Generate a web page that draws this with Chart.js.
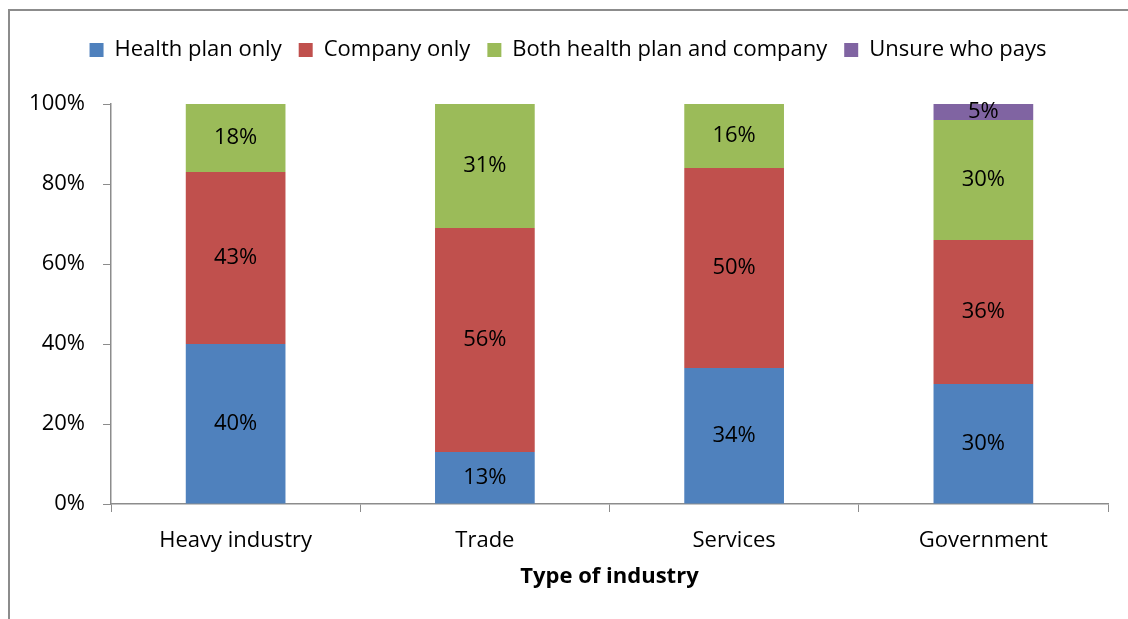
<!DOCTYPE html>
<html lang="en">
<head>
  <meta charset="UTF-8">
  <title>Who pays, by type of industry</title>
  <script src="https://cdn.jsdelivr.net/npm/chart.js"></script>
  <style>
    html, body {
      margin: 0;
      padding: 0;
      background: #fff;
      overflow: hidden;
    }

    .frame {
      position: absolute;
      left: 8px;
      top: 9px;
      width: 1200px;
      height: 700px;
      border: 2px solid #8c8c8c;
    }

    .chart-box {
      position: absolute;
      left: 0;
      top: 0;
      width: 1128px;
      height: 619px;
    }
  </style>
</head>
<body>
  <div class="frame"></div>
  <div class="chart-box">
    <canvas id="chart" width="1128" height="619"></canvas>
  </div>

  <script>
    const industries = ['Heavy industry', 'Trade', 'Services', 'Government'];
    const healthPlanOnly = [40, 13, 34, 30];
    const companyOnly = [43, 56, 50, 36];
    const bothPay = [18, 31, 16, 30];
    const unsure = [null, null, null, 5];
    const yTicks = [0, 20, 40, 60, 80, 100];

    const FONT = '"Open Sans", Lato, sans-serif';
    const SIZE = 22;

    // legend keeps the room between itself and the plot
    const legendGap = {
      id: 'legendGap',
      afterInit(chart) {
        const legend = chart.legend;
        const fit = legend.fit.bind(legend);
        legend.fit = function () {
          fit();
          this.height = 82;
        };
      }
    };

    // writes the value in the middle of each visible bar segment
    const segmentLabels = {
      id: 'segmentLabels',
      afterDatasetsDraw(chart) {
        const ctx = chart.ctx;
        const area = chart.chartArea;
        ctx.save();
        ctx.font = SIZE + 'px ' + FONT;
        ctx.fillStyle = '#000';
        ctx.textAlign = 'center';
        ctx.textBaseline = 'middle';
        chart.data.datasets.forEach((ds, i) => {
          const meta = chart.getDatasetMeta(i);
          meta.data.forEach((bar, j) => {
            const v = ds.data[j];
            if (v == null) return;
            const top = Math.max(Math.min(bar.y, bar.base), area.top);
            const bottom = Math.min(Math.max(bar.y, bar.base), area.bottom);
            ctx.fillText(v + '%', bar.x, (top + bottom) / 2);
          });
        });
        ctx.restore();
      }
    };

    function makeSet(label, data, color) {
      return {
        label: label,
        data: data,
        backgroundColor: color,
        borderWidth: 0,
        clip: 0,
        barPercentage: 0.4,
        categoryPercentage: 1
      };
    }

    new Chart(document.getElementById('chart'), {
      type: 'bar',
      data: {
        labels: industries,
        datasets: [
          makeSet('Health plan only', healthPlanOnly, '#4F81BD'),
          makeSet('Company only', companyOnly, '#C0504D'),
          makeSet('Both health plan and company', bothPay, '#9BBB59'),
          makeSet('Unsure who pays', unsure, '#8064A2')
        ]
      },
      options: {
        responsive: false,
        animation: false,
        layout: { padding: { left: 28, right: 20, top: 22, bottom: 25 } },
        plugins: {
          tooltip: { enabled: false },
          legend: {
            position: 'top',
            labels: {
              boxWidth: 14,
              boxHeight: 14,
              padding: 17,
              color: '#000',
              font: { family: FONT, size: SIZE }
            }
          }
        },
        scales: {
          x: {
            stacked: true,
            afterFit(scale) { scale.height = 90; },
            grid: { drawOnChartArea: false, drawTicks: true, tickLength: 8, color: '#8c8c8c', offset: true },
            border: { color: '#8c8c8c', width: 1.5 },
            ticks: { color: '#000', padding: 16, font: { family: FONT, size: SIZE } },
            title: {
              display: true,
              text: 'Type of industry',
              color: '#000',
              padding: { top: 4 },
              font: { family: FONT, size: SIZE, weight: 'bold' }
            }
          },
          y: {
            stacked: true,
            min: 0,
            max: 100,
            afterFit(scale) { scale.width = 83; },
            afterBuildTicks(scale) { scale.ticks = yTicks.map(v => ({ value: v })); },
            grid: { drawOnChartArea: false, drawTicks: true, tickLength: 8, color: '#8c8c8c' },
            border: { color: '#8c8c8c', width: 1.5 },
            ticks: {
              color: '#000',
              padding: 18,
              font: { family: FONT, size: SIZE },
              callback: v => v + '%'
            }
          }
        }
      },
      plugins: [legendGap, segmentLabels]
    });
  </script>
</body>
</html>
